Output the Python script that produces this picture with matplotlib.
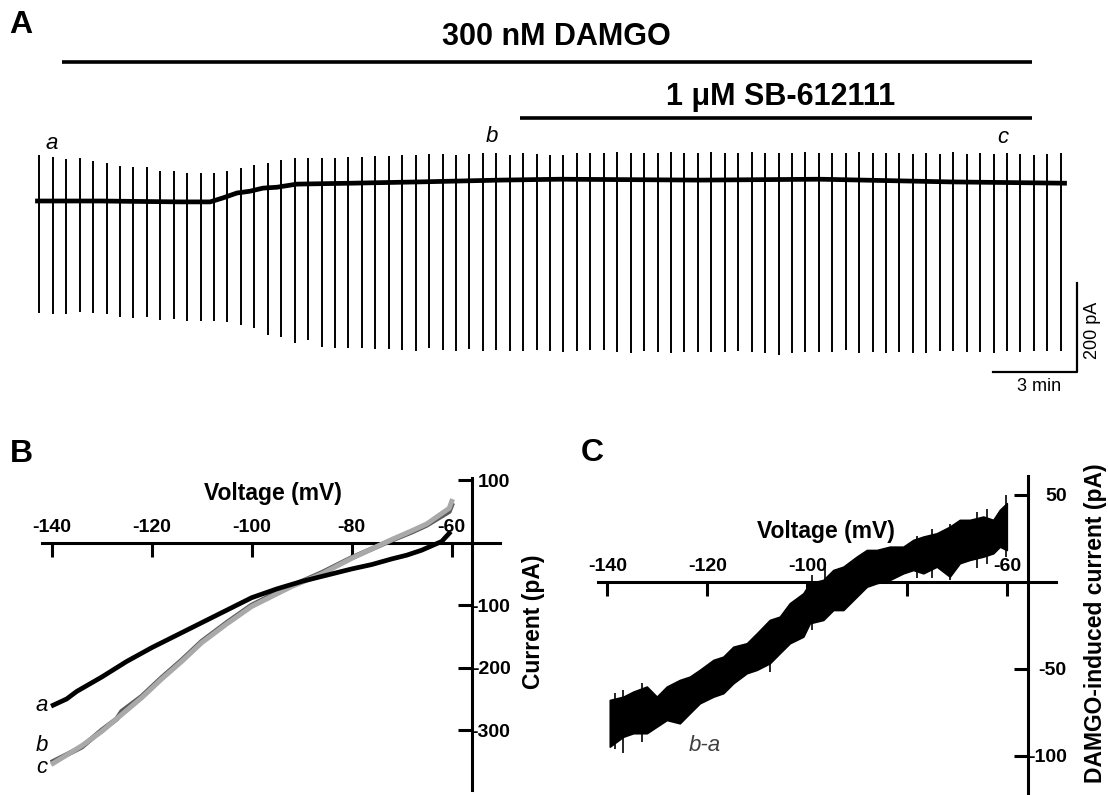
import numpy as np
import matplotlib
matplotlib.use('Agg')
import matplotlib.pyplot as plt

# A: holding current with a voltage ramp every ~0.48 min (pA)
ramp_interval = 0.48
ramp_top = [104, 99, 95, 97, 90, 86, 79, 77, 77, 68, 68, 63, 63, 63, 68, 74, 81, 86, 92, 97,
            97, 97, 97, 99, 99, 101, 101, 104, 104, 106, 106, 104, 106, 108, 108, 104, 108, 106, 104, 104,
            108, 108, 108, 110, 108, 108, 108, 110, 108, 108, 110, 108, 108, 110, 108, 108, 108, 110, 108,
            108, 108, 110, 108, 108, 108, 106, 108, 106, 110, 106, 108, 106, 108, 106, 104, 106, 108]
ramp_bottom = [-252, -254, -254, -250, -252, -254, -261, -263, -261, -268, -266, -270, -270, -270, -272, -279, -286, -302, -306, -320,
               -313, -329, -331, -331, -331, -333, -333, -335, -338, -331, -335, -338, -333, -338, -335, -338, -338, -335, -338, -340,
               -338, -335, -335, -340, -342, -338, -340, -342, -340, -340, -340, -340, -338, -340, -342, -347, -342, -340, -340,
               -340, -335, -342, -340, -342, -340, -342, -342, -338, -338, -340, -340, -342, -338, -340, -338, -338, -338]
base_t = [-0.15, 2.17, 5.03, 6.10, 6.56, 7.06, 7.52, 7.99, 8.49, 9.20, 11.10, 13.60, 16.45, 18.60, 23.60, 27.88, 32.52, 36.70]
base_i = [0, 0, -2, -2, 7, 18, 22, 29, 31, 38, 40, 43, 47, 49, 47, 49, 43, 40]

# B: ramp I-V curves (mV, pA)
v_a = [-139.7, -137, -135, -130, -125, -120, -115, -110, -105, -100, -95, -90, -85, -80, -76, -72, -69, -66, -62, -60.5]
i_a = [-260, -250, -238, -215, -190, -168, -148, -128, -108, -88, -74, -62, -52, -42, -35, -26, -20, -12, 2, 15]
v_b = [-139.7, -134, -130, -127, -126, -122, -118, -114, -110, -105, -100, -96, -92, -86, -80, -76, -72, -68, -65, -60.5, -60]
i_b = [-350, -327, -300, -282, -270, -246, -216, -188, -158, -128, -100, -84, -69, -48, -24, -10, 4, 17, 28, 50, 60]
v_c = [-139.7, -134, -130, -126, -122, -118, -114, -110, -105, -100, -96, -92, -86, -80, -76, -72, -68, -65, -60.5, -60]
i_c = [-353, -325, -302, -275, -248, -218, -190, -160, -130, -102, -86, -70, -50, -25, -10, 5, 19, 30, 55, 66]

# C: DAMGO-induced current (b-a), noisy band envelope
v_diff = [-139.5, -136.8, -134.8, -132.1, -130.1, -128.1, -125.5, -123.5, -121.5, -118.8, -116.8, -114.8,
          -112.1, -110.1, -107.5, -105.5, -103.5, -100.8, -99.5, -96.8, -94.8, -92.8, -90.1, -88.1, -86.1,
          -83.5, -80.8, -78.8, -76.8, -74.1, -71.5, -69.5, -67.5, -64.8, -62.8, -61.5, -60.1]
diff_upper = [-68, -66.1, -63.2, -60.3, -66.1, -60.3, -56.5, -54.6, -50.7, -45, -43.1, -37.4,
              -35.4, -29.7, -22, -20.1, -12.4, -6.7, -0.9, 1.0, 6.7, 8.6, 14.4, 18.2, 18.2,
              20.1, 20.1, 24, 25.9, 27.8, 31.6, 35.5, 35.5, 37.4, 35.5, 41.2, 45.1]
diff_lower = [-94.8, -89.1, -87.1, -87.1, -83.3, -79.5, -81.4, -75.6, -69.9, -66.1, -64.1, -58.4,
              -52.6, -50.7, -46.9, -41.1, -35.4, -31.6, -23.9, -22, -16.3, -16.3, -8.6, -2.9, -0.9,
              1.0, 4.8, 6.7, 4.8, 8.6, 2.9, 10.6, 12.5, 14.4, 16.3, 20.1, 18.2]
# single noise spikes sticking out of the band
spike_v = [-138.5, -136.8, -133.0, -107.5, -99.0, -96.5, -78.0, -75.0, -71.5, -66.0, -64.0, -60.3]
spike_lo = [-96, -98.6, -92, -51.7, -28, -10, 2, 2, 1, 8, 10, 14]
spike_hi = [-64, -62, -58, -30, 4, 10, 26, 30, 33, 40, 42, 50]


def iv_axes(ax, yaxis_at, xbounds, ybounds, yticks):
    for s in ['left', 'bottom']:
        ax.spines[s].set_visible(False)
    ax.spines['top'].set_position(('data', 0))
    ax.spines['top'].set_bounds(*xbounds)
    ax.spines['right'].set_position(('data', yaxis_at))
    ax.spines['right'].set_bounds(*ybounds)
    for s in ['top', 'right']:
        ax.spines[s].set_linewidth(2.2)
    ax.xaxis.tick_top()
    ax.yaxis.tick_right()
    xt = [-140, -120, -100, -80, -60]
    ax.set_xticks(xt, [str(v) for v in xt], fontweight='bold')
    ax.set_yticks(yticks, [str(v) for v in yticks], ha='right', fontweight='bold')
    ax.tick_params(axis='x', direction='in', length=10, width=2.2, pad=5, labelsize=14)
    ax.tick_params(axis='y', direction='in', length=10, width=2.2, pad=28, labelsize=14)
    ax.patch.set_visible(False)


def main():
    fig = plt.figure(figsize=(11.08, 7.95), dpi=100)

    # ---- A
    ax = fig.add_axes([0, 395/795, 1, 400/795])
    ax.set_xlim(-1.404, 38.168)
    ax.set_ylim(-447.75, 452.25)
    ax.axis('off')
    t = np.arange(len(ramp_top)) * ramp_interval
    ax.vlines(t, ramp_bottom, ramp_top, color='black', lw=1.4)
    ax.plot(base_t, base_i, color='black', lw=3.4, solid_capstyle='butt')
    ax.hlines(312.75, 0.81, 35.45, color='black', lw=2.6)
    ax.hlines(186.75, 17.17, 35.45, color='black', lw=2.6)
    ax.text(18.45, 369, '300 nM DAMGO', ha='center', va='center', fontsize=22, fontweight='bold')
    ax.text(26.49, 234, '1 \u03bcM SB-612111', ha='center', va='center', fontsize=22, fontweight='bold')
    ax.text(0.45, 130, 'a', ha='center', va='center', fontsize=16, style='italic')
    ax.text(16.17, 144, 'b', ha='center', va='center', fontsize=16, style='italic')
    ax.text(34.42, 142, 'c', ha='center', va='center', fontsize=16, style='italic')
    ax.plot([34.06, 37.06, 37.06], [-384.5, -384.5, -184.5], color='black', lw=1.6)
    ax.text(35.7, -418, '3 min', ha='center', va='center', fontsize=13)
    ax.text(37.63, -290, '200 pA', ha='center', va='center', fontsize=13, rotation=90)

    # ---- B
    axb = fig.add_axes([0, 0, 540/1108, 355/795])
    axb.set_xlim(-150.34, -42.34)
    axb.set_ylim(-403.7, 164.3)
    iv_axes(axb, -56, (-142, -50.4), (-396, 103), [100, -100, -200, -300])
    axb.plot(v_b, i_b, color='#5a5a5a', lw=3.6, zorder=5)
    axb.plot(v_c, i_c, color='#a9a9a9', lw=3.6, zorder=6)
    axb.plot(v_a, i_a, color='black', lw=3.4, zorder=7)
    axb.text(-95.7, 78, 'Voltage (mV)', ha='center', va='center', fontsize=16.5, fontweight='bold')
    axb.text(-43.7, -127, 'Current (pA)', ha='center', va='center', fontsize=16.5,
             fontweight='bold', rotation=90)
    axb.text(-142.1, -260, 'a', ha='center', va='center', fontsize=16, style='italic')
    axb.text(-141.9, -324, 'b', ha='center', va='center', fontsize=16, style='italic')
    axb.text(-141.9, -360, 'c', ha='center', va='center', fontsize=16, style='italic')

    # ---- C
    axc = fig.add_axes([560/1108, 0, 548/1108, 355/795])
    axc.set_xlim(-149.46, -39.86)
    axc.set_ylim(-122.6, 81.4)
    iv_axes(axc, -55.9, (-141.9, -50.3), (-123, 61), [50, -50, -100])
    axc.text(-96.3, 28.6, 'Voltage (mV)', ha='center', va='center', fontsize=16.5,
             fontweight='bold', zorder=3)
    axc.fill_between(v_diff, diff_lower, diff_upper, color='black', lw=1.2, zorder=5)
    axc.vlines(spike_v, spike_lo, spike_hi, color='black', lw=1.2, zorder=5)
    axc.text(-120.5, -94, 'b-a', ha='center', va='center', fontsize=16, style='italic',
             color='#404040')
    axc.text(-42.46, -23.7, 'DAMGO-induced current (pA)', ha='center', va='center',
             fontsize=16.5, fontweight='bold', rotation=90)

    # panel letters
    for x, y, s in [(9, 25, 'A'), (10, 454, 'B'), (581, 453, 'C')]:
        fig.text(x/1108, 1 - y/795, s, ha='left', va='center', fontsize=23, fontweight='bold')

    fig.savefig('out.png', dpi=100)


if __name__ == '__main__':
    plt.rcParams['font.family'] = ['Liberation Sans', 'DejaVu Sans']
    plt.rcParams['axes.unicode_minus'] = False
    main()
